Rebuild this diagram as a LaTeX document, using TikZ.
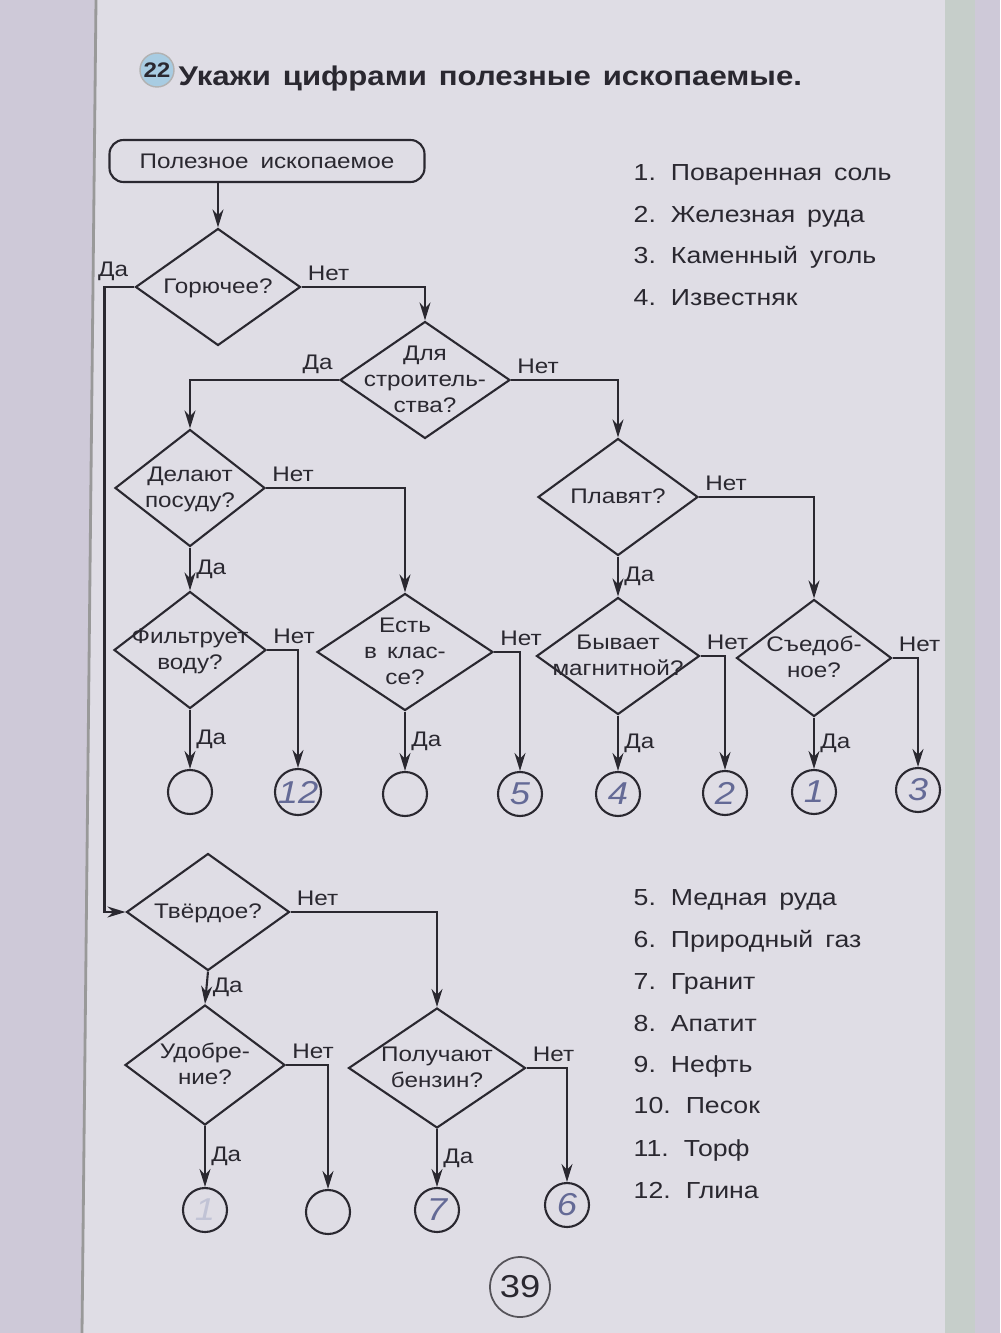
\documentclass[tikz,border=0pt]{standalone}
\usepackage{fontspec}
\setmainfont{Liberation Sans}[FakeStretch=1.15]
\usepackage{tikz}
\usetikzlibrary{shapes.geometric, arrows.meta, positioning}

\definecolor{pagebg}{RGB}{223,221,229}
\definecolor{deskbg}{RGB}{206,201,216}
\definecolor{edgebg}{RGB}{198,206,202}
\definecolor{ink}{RGB}{42,40,48}
\definecolor{pencil}{RGB}{100,106,150}
\definecolor{badge}{RGB}{168,204,226}

\newcommand{\flowfont}{\fontsize{6}{7.4}\selectfont}
\newcommand{\listfont}{\fontsize{6.6}{8}\selectfont}
\newcommand{\qtxt}[1]{\smash{\raisebox{-0.3em}{\makebox[0pt]{\begin{tabular}{@{}c@{}}#1\end{tabular}}}}}

\begin{document}
\begin{tikzpicture}[
        x=0.1mm, y=-0.1mm,
        decision/.style={diamond, draw=ink, line width=0.6pt, inner sep=0pt,
            minimum width=16mm, minimum height=11.7mm, font=\flowfont, text=ink},
        begbox/.style={rectangle, rounded corners=1.4mm, draw=ink, line width=0.6pt,
            minimum width=31.5mm, minimum height=4.2mm, font=\flowfont, text=ink},
        leaf/.style={circle, draw=ink, line width=0.6pt, minimum size=4.4mm, inner sep=0pt,
            font=\fontsize{9}{9}\selectfont\itshape, text=pencil},
        listitem/.style={anchor=base west, inner sep=0pt, font=\listfont, text=ink},
        link/.style={-{Stealth[length=1.8mm, width=1.1mm]}, draw=ink, line width=0.6pt},
        ans/.style={font=\flowfont, text=ink, inner sep=1.5pt}
    ]

    % Page
    \useasboundingbox (0,0) rectangle (1000,1333);
    \fill[deskbg] (0,0) rectangle (1000,1333);
    \fill[pagebg] (96,0) -- (945,0) -- (945,1333) -- (82,1333) -- cycle;
    \fill[edgebg] (945,0) rectangle (975,1333);
    \draw[black!40, line width=0.8pt] (96,0) -- (82,1333);

    % Heading
    \node[circle, fill=badge, draw=black!30, minimum size=3.4mm, inner sep=0pt,
        font=\fontsize{6}{6}\selectfont\bfseries, text=ink] (badge) at (157,70) {22};
    \node[anchor=west, inner sep=0pt, font=\fontsize{7.7}{9}\selectfont\bfseries, text=ink]
        (title) at (178,79) {Укажи\hspace{1.2mm}цифрами\hspace{1.2mm}полезные\hspace{1.2mm}ископаемые.};

    % Start
    \node[begbox] (root) at (267,161) {Полезное\hspace{1.2mm}ископаемое};

    % Upper tree
    \node[decision, minimum width=16.5mm] (burn) at (218,287) {\qtxt{Горючее?}};
    \node[decision, minimum width=17mm] (build) at (425,380) {\qtxt{Для\\строитель-\\ства?}};
    \node[decision, minimum width=15mm] (dish) at (190,488) {\qtxt{Делают\\посуду?}};
    \node[decision] (melt) at (618,497) {\qtxt{Плавят?}};
    \node[decision, minimum width=15.2mm] (filter) at (190,650) {\qtxt{Фильтрует\\воду?}};
    \node[decision, minimum width=17.6mm] (class) at (405,652) {\qtxt{Есть\\в\hspace{1mm}клас-\\се?}};
    \node[decision, minimum width=16.3mm] (magnet) at (618,656) {\qtxt{Бывает\\магнитной?}};
    \node[decision, minimum width=15.5mm] (food) at (814,658) {\qtxt{Съедоб-\\ное?}};

    % Upper leaves
    \node[leaf] (u1) at (190,792) {};
    \node[leaf] (u2) at (298,792) {12};
    \node[leaf] (u3) at (405,794) {};
    \node[leaf] (u4) at (520,794) {5};
    \node[leaf] (u5) at (618,794) {4};
    \node[leaf] (u6) at (725,793) {2};
    \node[leaf] (u7) at (814,792) {1};
    \node[leaf] (u8) at (918,790) {3};

    % Lower tree
    \node[decision, minimum width=16.3mm] (solid) at (208,912) {\qtxt{Твёрдое?}};
    \node[decision, minimum height=12mm] (fert) at (205,1065) {\qtxt{Удобре-\\ние?}};
    \node[decision, minimum width=17.7mm, minimum height=12mm] (fuel) at (437,1068) {\qtxt{Получают\\бензин?}};

    % Lower leaves
    \node[leaf, text=pencil!40] (w1) at (205,1210) {1};
    \node[leaf] (w2) at (328,1212) {};
    \node[leaf] (w3) at (437,1210) {7};
    \node[leaf] (w4) at (567,1205) {6};

    % Connections
    \draw[link] (root.south -| burn.north) -- (burn.north);
    \draw[link] (burn.west) node[ans, above left] {Да} -- ++(-30,0) |- (solid.west);
    \draw[link] (burn.east) node[ans, above right] {Нет} -| (build.north);
    \draw[link] (build.west) node[ans, above left] {Да} -| (dish.north);
    \draw[link] (build.east) node[ans, above right] {Нет} -| (melt.north);
    \draw[link] (dish.east) node[ans, above right] {Нет} -| (class.north);
    \draw[link] (dish.south) -- node[ans, right] {Да} (filter.north);
    \draw[link] (melt.east) node[ans, above right] {Нет} -| (food.north);
    \draw[link] (melt.south) -- node[ans, right] {Да} (magnet.north);

    \draw[link] (filter.south) -- node[ans, right] {Да} (u1.north);
    \draw[link] (filter.east) node[ans, above right] {Нет} -| (u2.north);
    \draw[link] (class.south) -- node[ans, right] {Да} (u3.north);
    \draw[link] (class.east) node[ans, above right] {Нет} -| (u4.north);
    \draw[link] (magnet.south) -- node[ans, right] {Да} (u5.north);
    \draw[link] (magnet.east) node[ans, above right] {Нет} -| (u6.north);
    \draw[link] (food.south) -- node[ans, right] {Да} (u7.north);
    \draw[link] (food.east) node[ans, above right] {Нет} -| (u8.north);

    \draw[link] (solid.south) -- node[ans, right] {Да} (fert.north);
    \draw[link] (solid.east) node[ans, above right] {Нет} -| (fuel.north);
    \draw[link] (fert.south) -- node[ans, right] {Да} (w1.north);
    \draw[link] (fert.east) node[ans, above right] {Нет} -| (w2.north);
    \draw[link] (fuel.south) -- node[ans, right] {Да} (w3.north);
    \draw[link] (fuel.east) node[ans, above right] {Нет} -| (w4.north);

    % Lists
    \node[listitem] (m1) at (633,181) {1.\hspace{1.5mm}Поваренная\hspace{1.2mm}соль};
    \node[listitem] (m2) at (633,223) {2.\hspace{1.5mm}Железная\hspace{1.2mm}руда};
    \node[listitem] (m3) at (633,264) {3.\hspace{1.5mm}Каменный\hspace{1.2mm}уголь};
    \node[listitem] (m4) at (633,306) {4.\hspace{1.5mm}Известняк};

    \node[listitem] (m5) at (633,905) {5.\hspace{1.5mm}Медная\hspace{1.2mm}руда};
    \node[listitem] (m6) at (633,947) {6.\hspace{1.5mm}Природный\hspace{1.2mm}газ};
    \node[listitem] (m7) at (633,989) {7.\hspace{1.5mm}Гранит};
    \node[listitem] (m8) at (633,1031) {8.\hspace{1.5mm}Апатит};
    \node[listitem] (m9) at (633,1072) {9.\hspace{1.5mm}Нефть};
    \node[listitem] (m10) at (633,1113) {10.\hspace{1.5mm}Песок};
    \node[listitem] (m11) at (633,1156) {11.\hspace{1.5mm}Торф};
    \node[listitem] (m12) at (633,1198) {12.\hspace{1.5mm}Глина};

    % Page number
    \node[circle, draw=ink!80, line width=0.5pt, minimum size=6mm, inner sep=0pt,
        font=\fontsize{9}{9}\selectfont, text=ink] (pagenum) at (520,1287) {39};

\end{tikzpicture}
\end{document}
